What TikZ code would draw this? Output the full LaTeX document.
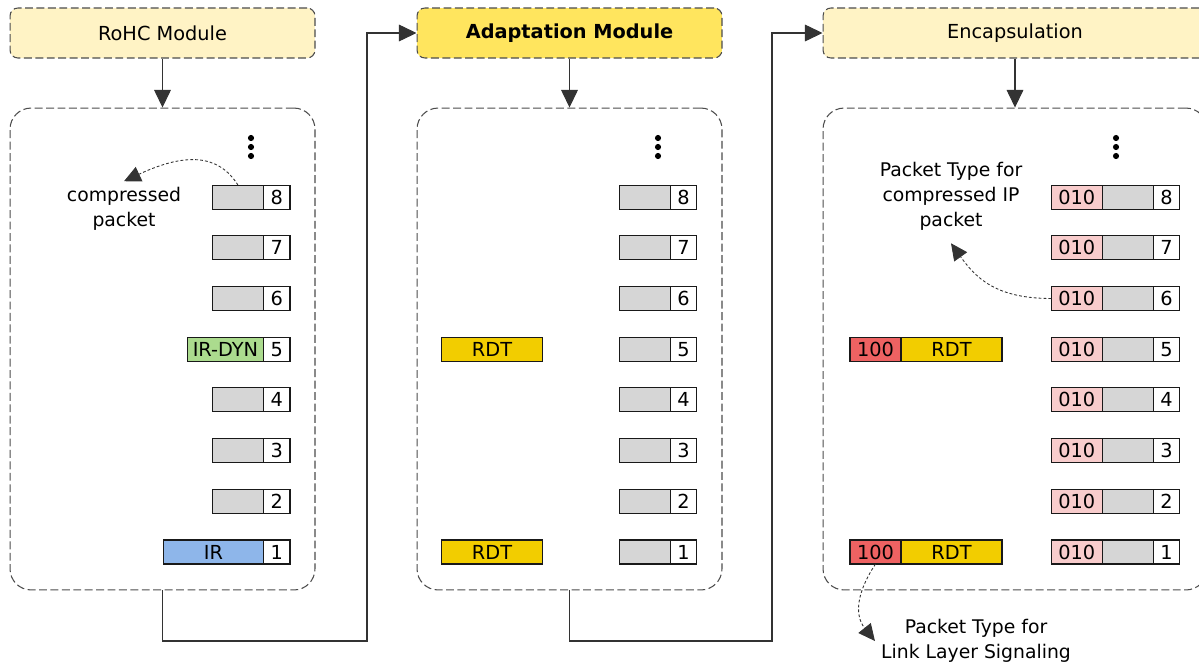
\documentclass[tikz,border=0pt]{standalone}
\usepackage{fontspec}
\setmainfont{DejaVu Sans}
\usetikzlibrary{positioning,arrows.meta}

\definecolor{modfill}{HTML}{FFF3C5}
\definecolor{adaptfill}{HTML}{FFE55E}
\definecolor{greyfill}{HTML}{D6D6D6}
\definecolor{irdyn}{HTML}{ABDB8E}
\definecolor{irfill}{HTML}{8EB6EA}
\definecolor{rdtfill}{HTML}{F2CD00}
\definecolor{typered}{HTML}{EE6262}
\definecolor{typepink}{HTML}{F8CCCC}

\tikzset{
  ->/.style={draw=black!80,line width=0.6pt,-{Triangle[length=10pt,width=9.5pt]}},
  hint/.style={draw=black!80,line width=0.5pt,dash pattern=on 1.6pt off 1.2pt,-{Triangle[length=9.5pt,width=9pt]}},
  module/.style={draw=black!70,line width=0.6pt,dash pattern=on 4.5pt off 2pt,rounded corners=4.5pt,fill=modfill,minimum height=1cm,font=\fontsize{11}{14}\selectfont},
  stack/.style={draw=black!70,line width=0.6pt,dash pattern=on 4.5pt off 2pt,rounded corners=12pt,minimum height=9.64cm},
  cell/.style={draw=black!90,line width=0.65pt,inner sep=0pt,outer sep=0pt,minimum height=0.48cm,font=\fontsize{11}{14}\selectfont},
  num/.style={cell,fill=white,minimum width=0.53cm},
  pkt/.style={cell,fill=greyfill,minimum width=1.02cm},
  rdt/.style={cell,fill=rdtfill,minimum width=2.02cm},
  ptype/.style={cell,fill=typepink,minimum width=1.02cm},
  sig/.style={cell,fill=typered,minimum width=1.02cm}
}
\tikzstyle{every node}=[font=\fontsize{10.7}{14.2}\selectfont]

\begin{document}
\begin{tikzpicture}[x=0.02cm,y=-0.02cm]
    \useasboundingbox (0,0) rectangle (1199,667);
    % module headers
    \node[module,minimum width=6.1cm] (rohc) at (162.5,33) {RoHC Module};
    \node[module,minimum width=6.1cm,fill=adaptfill,font=\fontsize{11}{14}\selectfont\bfseries] (adapt) at (569.5,33) {Adaptation Module};
    \node[module,minimum width=7.68cm] (encap) at (1015,33) {Encapsulation};
    % packet stacks
    \node[stack,minimum width=6.1cm] (rohcbox) at (162.5,349) {};
    \node[stack,minimum width=6.1cm] (adaptbox) at (569.5,349) {};
    \node[stack,minimum width=7.68cm] (encapbox) at (1015,349) {};
    \draw [->] (rohc) -- (rohcbox);
    \draw [->] (adapt) -- (adaptbox);
    \draw [->] (encap) -- (encapbox);
    \coordinate (c1) at (367,641);
    \coordinate (c2) at (772,641);
    \draw [->] (rohcbox.south) |- (c1) |- (adapt.west);
    \draw [->] (adaptbox.south) |- (c2) |- (encap.west);

    \foreach \i in {1,...,8} {
        \node[num] (a\i) at (276.7,{552-(\i-1)*50.7}) {\i};
        \node[num] (b\i) at (683.5,{552-(\i-1)*50.7}) {\i};
        \node[num] (c\i) at (1166.5,{552-(\i-1)*50.7}) {\i};
        \node[pkt,left=0pt of b\i] (bp\i) {};
        \node[pkt,left=0pt of c\i] (cp\i) {};
        \node[ptype,left=0pt of cp\i] (ct\i) {010};
    }
    \foreach \i in {2,3,4,6,7,8}
        \node[pkt,left=0pt of a\i] (ap\i) {};
    \node[cell,fill=irdyn,minimum width=1.52cm,left=0pt of a5] (ap5) {IR-DYN};
    \node[cell,fill=irfill,minimum width=2cm,left=0pt of a1] (ap1) {IR};
    \node[rdt] (br5) at (492,{552-4*50.7}) {RDT};
    \node[rdt] (br1) at (492,552) {RDT};
    \node[rdt] (cr5) at (951.5,{552-4*50.7}) {RDT};
    \node[rdt] (cr1) at (951.5,552) {RDT};
    \node[sig,left=0pt of cr5] (cs5) {100};
    \node[sig,left=0pt of cr1] (cs1) {100};

    % more packets above
    \foreach \x in {251,658,1116}
        \foreach \y in {138,147,156}
            \fill (\x,\y) circle (1.75pt);

    \node[align=center] (cpl) at (124,209) {compressed\\packet};
    \node[align=center] (ptl) at (951,196) {Packet Type for\\compressed IP\\packet};
    \node[align=center] (sgl) at (976,641) {Packet Type for\\Link Layer Signaling};
    \draw [hint] (ap8.north) .. controls +(-20,-32) and +(60,-28) .. (cpl.north);
    \draw [hint] (ct6.west) .. controls +(-55,0) and +(25,35) .. ([yshift=-4pt]ptl.south);
    \draw [hint] (cs1.south) .. controls +(-20,30) and +(-20,-25) .. (sgl.west);
\end{tikzpicture}
\end{document}
